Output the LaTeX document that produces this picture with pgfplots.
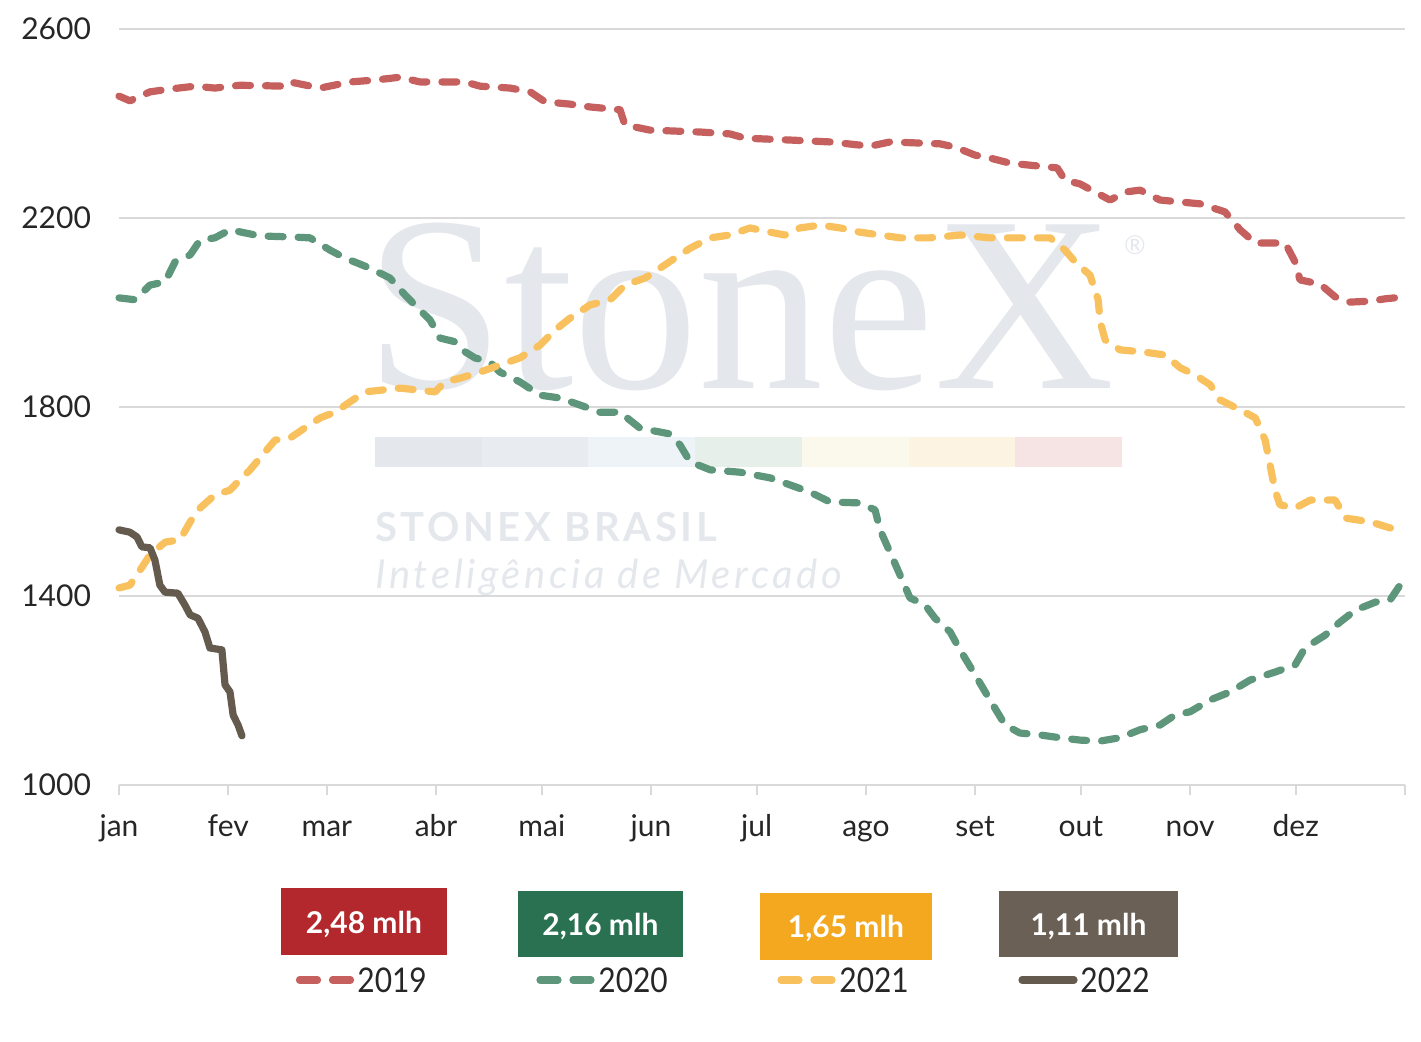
\documentclass[border=0pt]{standalone}
\usepackage{pgfplots}
\pgfplotsset{compat=1.18}
\usepackage{graphicx}
\usepackage{fontspec}
\setmainfont{Lato}
\newfontfamily\wmserif{Liberation Serif}
\definecolor{cRed}{HTML}{C5605E}
\definecolor{cGreen}{HTML}{5D967B}
\definecolor{cYellow}{HTML}{F8C15D}
\definecolor{cGray}{HTML}{645A4E}
\definecolor{bRed}{HTML}{B3282D}
\definecolor{bGreen}{HTML}{2A7152}
\definecolor{bYellow}{HTML}{F4A81F}
\definecolor{bGray}{HTML}{6A6056}
\definecolor{wm}{HTML}{E4E7EC}
\definecolor{gridc}{HTML}{D9D9D9}
\definecolor{txt}{HTML}{262626}
\tikzset{serie/.style={line width=3.6pt, line cap=round, line join=round},
  dsh/.style={dash pattern=on 7.5pt off 7.5pt},
  ldsh/.style={dash pattern=on 9pt off 7.5pt}}
\newcommand\legtxt[1]{\scalebox{0.88}[1]{#1}}
\begin{document}
\begin{tikzpicture}
\useasboundingbox (-59.5pt,-128pt) rectangle (651pt,392.5pt);
% watermark
\node[anchor=base west, inner sep=0, text=wm, font=\wmserif\fontsize{125}{125}\selectfont] at (123pt,198.5pt) {StoneX};
\node[anchor=center, inner sep=0, text=wm, font=\fontsize{13}{13}\selectfont] at (508pt,270pt) {®};
\foreach \i/\c in {0/E4E7EC,1/E8ECF0,2/EEF3F8,3/E6EFE9,4/FBF8EC,5/FDF3E3,6/F6E4E4}{
  \definecolor{tmpc}{HTML}{\c}
  \fill[tmpc] ({128pt+\i*53.36pt},159pt) rectangle ({128pt+(\i+1)*53.36pt},174pt);
}
\node[anchor=base west, inner sep=0, text=wm, font=\bfseries\fontsize{20}{20}\selectfont\addfontfeatures{LetterSpace=9}] at (128pt,122pt) {STONEX BRASIL};
\node[anchor=base west, inner sep=0, text=wm, font=\itshape\fontsize{20}{20}\selectfont\addfontfeatures{LetterSpace=9}] at (128pt,98.5pt) {Inteligência de Mercado};
\begin{axis}[
  at={(0,0)}, anchor=south west,
  width=643pt, height=378pt, scale only axis,
  xmin=0, xmax=365, ymin=1000, ymax=2600,
  ytick={1000,1400,1800,2200,2600},
  xtick={0,31,59,90,120,151,181,212,243,273,304,334,365},
  xticklabels={jan,fev,mar,abr,mai,jun,jul,ago,set,out,nov,dez,},
  axis x line*=bottom, axis y line*=left,
  y axis line style={draw=none},
  x axis line style={draw=gridc, line width=1pt, -},
  ymajorgrids, grid style={draw=gridc, line width=1pt},
  xtick pos=bottom, xtick align=outside, major tick length=5pt,
  ytick style={draw=none},
  xtick style={draw=gridc, line width=1pt},
  tick label style={font=\fontsize{15}{15}\selectfont, text=txt},
  yticklabel style={xshift=-10.5pt},
  xticklabel style={text height=10.5pt, text depth=3pt, yshift=-6.5pt},
  /pgf/number format/1000 sep={},
  /pgf/number format/assume math mode=true,
  clip=false,
]
\addplot[cRed, serie, dsh] coordinates {
(0,2458)(3.1,2448)(8.8,2467)(14.5,2473)(21.6,2479)(27.2,2475)(34.3,2481)(47.1,2479)(48.5,2488)(57.1,2475)(65.6,2488)(72.7,2492)(79.8,2498)(85.4,2488)(98.2,2488)(102.5,2479)(111,2475)(116.7,2467)(120.9,2446)(128,2441)(133.7,2435)(142.2,2429)(143.6,2397)(150.7,2386)(164.9,2382)(173.4,2378)(177.7,2369)(190.5,2365)(201.8,2361)(213.2,2352)(218.8,2361)(233,2357)(237.3,2350)(243,2333)(247.2,2327)(252.9,2316)(266.3,2306)(268.5,2280)(272.8,2272)(277,2255)(281.3,2238)(285.6,2255)(289.8,2259)(295.5,2238)(306.8,2230)(313.9,2213)(318.2,2175)(322.5,2147)(331,2147)(333.8,2107)(335.2,2069)(340.9,2060)(345.2,2033)(349.4,2022)(355.1,2024)(359.4,2029)(364.7,2033)
};
\addplot[cGreen, serie, dsh] coordinates {
(0,2031)(4.5,2027)(8.8,2058)(13.1,2065)(15.9,2107)(20.2,2122)(23,2153)(27.2,2158)(31.5,2175)(40,2162)(48.5,2160)(54.2,2158)(59.9,2132)(64.2,2115)(71.2,2094)(76.9,2073)(81.2,2037)(85.4,2005)(88.3,1984)(91.1,1946)(95.4,1938)(98.2,1917)(101,1904)(105.3,1895)(108.1,1874)(113.8,1853)(119.5,1825)(125.2,1819)(130.9,1804)(136.5,1789)(142.2,1789)(147.9,1755)(156.4,1743)(159.2,1720)(162.1,1684)(167.8,1667)(176.3,1662)(184.8,1650)(190.5,1635)(196.1,1620)(201.8,1599)(210.3,1597)(214.6,1582)(216,1540)(218.8,1493)(221.7,1444)(224.5,1396)(228.8,1381)(231.6,1353)(235.9,1324)(238.7,1286)(243,1233)(247.2,1180)(251.5,1127)(255.7,1110)(261.4,1106)(267.1,1100)(272.8,1095)(278.5,1093)(284.1,1100)(289.8,1117)(295.5,1127)(299.7,1148)(304,1155)(309.7,1180)(315.4,1197)(321,1222)(328.1,1239)(333.8,1254)(336.6,1290)(342.3,1317)(346.6,1345)(350.9,1370)(356.6,1387)(360.8,1392)(363.6,1423)
};
\addplot[cYellow, serie, dsh] coordinates {
(0,1417)(3.1,1423)(6,1455)(8.8,1487)(13.1,1514)(17.3,1519)(20.2,1557)(23,1586)(27.2,1614)(31.5,1624)(34.3,1646)(37.2,1667)(40,1692)(44.3,1730)(48.5,1734)(52.8,1756)(57.1,1777)(61.3,1789)(65.6,1811)(69.8,1832)(79.8,1840)(89.7,1832)(92.5,1853)(96.8,1861)(102.5,1874)(108.1,1889)(113.8,1904)(119.5,1931)(123.8,1963)(128,1988)(133.7,2016)(139.4,2027)(143.6,2058)(149.3,2073)(153.6,2094)(157.8,2115)(162.1,2136)(167.8,2158)(173.4,2164)(179.1,2179)(184.8,2170)(189,2164)(193.3,2179)(199,2185)(204.7,2179)(210.3,2170)(216,2164)(221.7,2158)(230.2,2158)(238.7,2164)(247.2,2158)(264.3,2158)(268.5,2132)(271.4,2107)(275.6,2079)(277.9,2027)(278.5,1980)(279.9,1942)(284.1,1921)(291.2,1916)(296.9,1910)(301.2,1883)(305.4,1868)(309.7,1847)(312.5,1815)(318.2,1794)(322.5,1777)(325.3,1730)(326.7,1677)(328.1,1624)(329.5,1593)(333.8,1586)(338.1,1603)(345.2,1603)(348,1565)(355.1,1557)(360.8,1544)(363.6,1535)
};
\addplot[cGray, serie] coordinates {
(0,1540)(3.1,1535)(5.1,1525)(6.5,1504)(8.8,1502)(10.2,1476)(11.6,1423)(13.1,1408)(16.7,1406)(18.7,1381)(20.2,1360)(22.4,1353)(24.4,1324)(25.8,1290)(29.2,1286)(30.1,1212)(31.5,1197)(32.4,1148)(33.8,1127)(34.9,1104)
};
\end{axis}
% legend boxes
\fill[bRed] (81pt,-51.5pt) rectangle (164pt,-85pt);
\node[text=white, font=\bfseries\fontsize{15}{15}\selectfont] at (122.5pt,-69.5pt) {2,48 mlh};
\fill[bGreen] (199.5pt,-53pt) rectangle (282pt,-86pt);
\node[text=white, font=\bfseries\fontsize{15}{15}\selectfont] at (240.75pt,-70.5pt) {2,16 mlh};
\fill[bYellow] (320.5pt,-54pt) rectangle (406.5pt,-87.5pt);
\node[text=white, font=\bfseries\fontsize{15}{15}\selectfont] at (363.5pt,-71.75pt) {1,65 mlh};
\fill[bGray] (440pt,-53pt) rectangle (529.5pt,-86pt);
\node[text=white, font=\bfseries\fontsize{15}{15}\selectfont] at (484.75pt,-70.5pt) {1,11 mlh};
% legend entries
\draw[cRed, serie, ldsh] (90.25pt,-97.5pt) -- (115.75pt,-97.5pt);
\node[anchor=base west, inner sep=0, text=txt, font=\fontsize{17}{17}\selectfont] at (119pt,-103.5pt) {\legtxt{2019}};
\draw[cGreen, serie, ldsh] (210.5pt,-97.5pt) -- (236pt,-97.5pt);
\node[anchor=base west, inner sep=0, text=txt, font=\fontsize{17}{17}\selectfont] at (239.5pt,-103.5pt) {\legtxt{2020}};
\draw[cYellow, serie, ldsh] (331pt,-97.5pt) -- (356.5pt,-97.5pt);
\node[anchor=base west, inner sep=0, text=txt, font=\fontsize{17}{17}\selectfont] at (360pt,-103.5pt) {\legtxt{2021}};
\draw[cGray, serie] (451.5pt,-97.5pt) -- (477.5pt,-97.5pt);
\node[anchor=base west, inner sep=0, text=txt, font=\fontsize{17}{17}\selectfont] at (480.5pt,-103.5pt) {\legtxt{2022}};
\end{tikzpicture}
\end{document}
